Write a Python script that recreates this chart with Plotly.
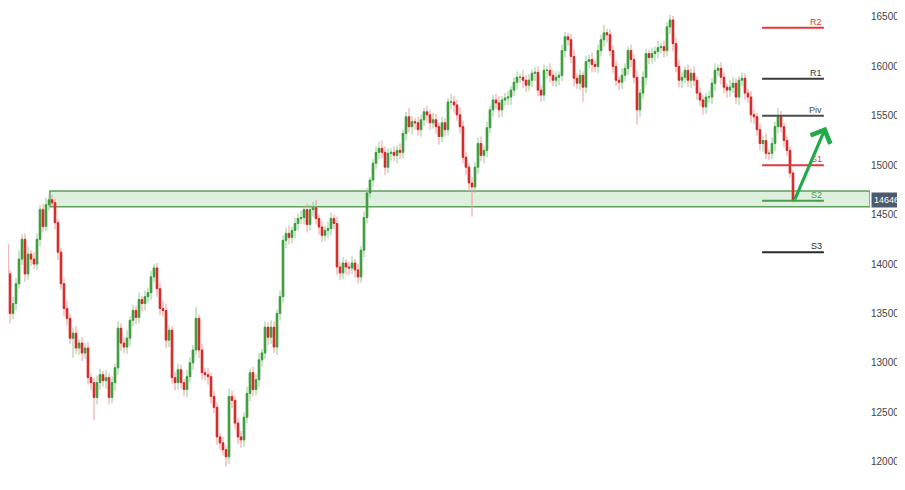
import plotly.graph_objects as go

# ---- data ----
first_open = 14000
closes = [
    14100, 14200, 13900, 13500, 13600, 13800, 14050, 14250, 13900, 14100,
    14050, 14000, 14250, 14550, 14380, 14600, 14650, 14620, 14420, 14120,
    13800, 13550, 13450, 13250, 13300, 13150, 13200, 13100, 13150, 12850,
    12800, 12650, 12800, 12880, 12820, 12850, 12650, 12800, 12950, 13350,
    13200, 13160, 13250, 13430, 13530, 13460, 13640, 13600, 13670, 13710,
    13870, 13960, 13750, 13550, 13530, 13230, 13330, 12850, 12800, 12930,
    12800, 12730, 12860, 13000, 13130, 13450, 13130, 12900, 12880, 12860,
    12660, 12550, 12250, 12190, 12120, 12050, 12660, 12620, 12390, 12250,
    12220, 12450, 12690, 12900, 12730, 12830, 13030, 13100, 13360, 13260,
    13360, 13160, 13500, 13670, 14240, 14310, 14270, 14340, 14410, 14460,
    14470, 14550, 14400, 14550, 14570, 14460, 14375, 14290, 14340, 14360,
    14460, 14410, 13970, 13910, 14010, 13970, 13960, 14010, 13940, 13870,
    14140, 14470, 14720, 14850, 15020, 15130, 15170, 15130, 14980, 15120,
    15130, 15100, 15150, 15130, 15320, 15490, 15390, 15440, 15430, 15360,
    15460, 15540, 15510, 15430, 15460, 15390, 15290, 15430, 15360, 15640,
    15640, 15610, 15510, 15390, 15080, 14980, 14820, 14780, 14980, 15220,
    15100, 15150, 15380, 15560, 15660, 15630, 15560, 15660, 15680, 15690,
    15760, 15840, 15890, 15890, 15860, 15810, 15860, 15930, 15940, 15760,
    15710, 15960, 15960, 15910, 15860, 15890, 15910, 16160, 16300, 16270,
    16100, 15880, 15830, 15910, 15790, 16050, 16070, 16020, 16000, 16160,
    16270, 16340, 16320, 16160, 16000, 15860, 15840, 15910, 15980, 16160,
    16070, 15890, 15560, 15730, 15890, 16130, 16090, 16130, 16150, 16190,
    16200, 16160, 16400, 16470, 16230, 16000, 15860, 15890, 15960, 15860,
    15930, 15860, 15730, 15660, 15590, 15690, 15690, 15830, 15960, 15980,
    15890, 15790, 15760, 15790, 15830, 15690, 15860, 15880, 15730, 15690,
    15510, 15490, 15360, 15220, 15250, 15120, 15120, 15220, 15390, 15490,
    15390, 15250, 15150, 14920, 14646,
]
wick_up = [
    60, 80, 50, 40, 70, 60, 90, 50, 60, 80, 40, 70, 60, 50, 60, 70, 50, 50, 40, 30,
    40, 60, 80, 50, 60, 70, 40, 60, 50, 60, 40, 50, 70, 60, 40, 80, 50, 60, 40, 70,
    50, 60, 80, 40, 60, 50, 70, 40, 60, 50, 60, 40, 50, 60, 80, 70, 50, 40, 60, 60,
    50, 40, 70, 60, 50, 120, 40, 60, 50, 70, 40, 60, 50, 40, 60, 30, 80, 60, 40, 50,
    60, 50, 70, 40, 60, 50, 70, 40, 60, 50, 70, 60, 40, 60, 50, 60, 80, 40, 60, 50,
    70, 40, 60, 50, 60, 80, 40, 60, 50, 70, 60, 40, 70, 50, 60, 40, 50, 70, 40, 60,
    40, 60, 50, 30, 40, 60, 70, 80, 60, 50, 40, 60, 50, 70, 40, 50, 90, 60, 40, 60,
    50, 40, 60, 50, 70, 60, 40, 60, 50, 40, 80, 60, 50, 70, 60, 50, 40, 60, 50, 60,
    70, 40, 60, 40, 50, 60, 70, 40, 50, 60, 40, 50, 60, 40, 70, 50, 60, 40, 50, 60,
    50, 60, 40, 70, 50, 60, 40, 60, 50, 40, 60, 70, 50, 60, 40, 60, 50, 70, 40, 60,
    50, 80, 40, 60, 50, 60, 40, 70, 50, 40, 60, 50, 70, 40, 60, 50, 40, 60, 50, 70,
    40, 60, 50, 50, 40, 60, 70, 50, 40, 60, 50, 70, 40, 60, 50, 40, 60, 50, 70, 40,
    60, 50, 40, 70, 60, 50, 40, 60, 50, 40, 60, 50, 40, 60, 50, 70, 40, 60, 50, 90,
    60, 40, 50, 40, 30,
]
wick_dn = [
    70, 60, 80, 100, 60, 70, 50, 60, 80, 60, 70, 50, 60, 70, 60, 50, 60, 40, 70, 80,
    60, 80, 70, 60, 200, 60, 70, 80, 60, 70, 80, 230, 70, 70, 60, 80, 70, 60, 80, 70,
    80, 60, 70, 80, 60, 70, 60, 80, 70, 60, 70, 60, 80, 70, 60, 80, 70, 60, 80, 70,
    60, 70, 80, 60, 70, 50, 80, 70, 60, 80, 70, 60, 80, 70, 60, 100, 70, 80, 60, 70,
    80, 70, 60, 80, 70, 60, 80, 70, 60, 80, 70, 60, 80, 70, 60, 80, 70, 60, 80, 70,
    60, 70, 80, 60, 70, 60, 80, 70, 60, 80, 70, 60, 80, 70, 60, 80, 70, 60, 80, 70,
    60, 70, 60, 50, 70, 60, 70, 60, 80, 60, 70, 60, 80, 70, 60, 70, 60, 80, 70, 60,
    70, 60, 80, 70, 60, 70, 80, 60, 70, 60, 70, 80, 60, 70, 60, 80, 90, 300, 60, 70,
    60, 80, 70, 60, 70, 60, 80, 70, 60, 70, 80, 60, 70, 60, 80, 70, 60, 70, 80, 60,
    70, 60, 80, 70, 60, 70, 80, 60, 70, 60, 70, 80, 60, 70, 150, 60, 70, 80, 60, 70,
    60, 70, 80, 60, 70, 60, 80, 70, 60, 70, 80, 60, 150, 70, 60, 80, 70, 60, 80, 70,
    60, 70, 60, 70, 80, 60, 70, 80, 60, 70, 80, 60, 70, 60, 80, 70, 60, 70, 80, 60,
    70, 60, 80, 70, 60, 70, 80, 60, 70, 60, 80, 70, 60, 70, 80, 60, 70, 60, 80, 70,
    60, 70, 60, 50, 20,
]

pivot_names = ["R2", "R1", "Piv", "S1", "S2", "S3"]
pivot_levels = [16390, 15875, 15500, 15000, 14640, 14120]
pivot_colors = ["#e03a3a", "#3a3a3a", "#4a4a4a", "#e03a3a", "#4c9a4c", "#2a2a2a"]

zone_low, zone_high = 14580, 14740
last_price = 14646
y_ticks = [12000, 12500, 13000, 13500, 14000, 14500, 15000, 15500, 16000, 16500]
y_tick_text = ["12000.", "12500.", "13000.", "13500.", "14000.",
               "14500.", "15000.", "15500.", "16000.", "16500."]

# ---- build OHLC ----
n = len(closes)
idx = list(range(n))
opens = [first_open] + closes[:-1]
highs = [max(o, c) + u for o, c, u in zip(opens, closes, wick_up)]
lows = [min(o, c) - d for o, c, d in zip(opens, closes, wick_dn)]
body_hi = [max(o, c) for o, c in zip(opens, closes)]
body_lo = [min(o, c) for o, c in zip(opens, closes)]

GREEN = "#3d9b3d"
RED = "#d42626"

fig = go.Figure()
# full range (wicks, lighter)
fig.add_trace(go.Candlestick(
    x=idx, open=opens, high=highs, low=lows, close=closes,
    increasing=dict(line=dict(color="#93cc93", width=1), fillcolor="#93cc93"),
    decreasing=dict(line=dict(color="#ef9a9a", width=1), fillcolor="#ef9a9a"),
    whiskerwidth=0, showlegend=False, hoverinfo="skip",
))
# bodies
fig.add_trace(go.Candlestick(
    x=idx, open=opens, high=body_hi, low=body_lo, close=closes,
    increasing=dict(line=dict(color=GREEN, width=1), fillcolor=GREEN),
    decreasing=dict(line=dict(color=RED, width=1), fillcolor=RED),
    whiskerwidth=0, showlegend=False,
))

x_start, x_end = 2.33, n + 24.67
# support zone
fig.add_shape(type="rect", xref="x", yref="y", x0=16.3, x1=x_end,
              y0=zone_low, y1=zone_high,
              fillcolor="rgba(120,190,120,0.25)",
              line=dict(color="#5e9f5e", width=1.5), layer="below")

# pivot levels
px0, px1 = n - 11.3, n + 9.3
for name, lvl, col in zip(pivot_names, pivot_levels, pivot_colors):
    fig.add_shape(type="line", xref="x", yref="y", x0=px0, x1=px1, y0=lvl, y1=lvl,
                  line=dict(color=col, width=2))
    fig.add_annotation(x=px1, y=lvl, xref="x", yref="y", text=name,
                       showarrow=False, xanchor="right", yanchor="bottom",
                       yshift=-1, font=dict(size=9, color=col,
                                            family="Liberation Sans, Arial"))

# green arrow
fig.add_annotation(x=n + 10, y=15390, ax=n - 0.6, ay=14640,
                   xref="x", yref="y", axref="x", ayref="y",
                   text="", showarrow=True, arrowhead=4, arrowsize=1.3,
                   arrowwidth=3.2, arrowcolor="#22aa48")

# last price label
fig.add_annotation(x=1, y=last_price, xref="paper", yref="y", text=str(last_price) + ".",
                   showarrow=False, xanchor="left", xshift=1,
                   bgcolor="#4c5a6e", borderpad=2,
                   font=dict(size=9, color="white", family="Liberation Sans, Arial"))

fig.update_layout(
    width=897, height=482,
    margin=dict(l=0, r=35, t=0, b=0),
    plot_bgcolor="white", paper_bgcolor="white",
    showlegend=False,
    xaxis=dict(visible=False, range=[x_start, x_end], rangeslider=dict(visible=False)),
    yaxis=dict(side="right", range=[11713, 16591], showgrid=False, zeroline=False,
               showline=False, ticks="", tickvals=y_ticks, ticktext=y_tick_text,
               tickfont=dict(size=10, color="#444", family="Liberation Sans, Arial")),
)

fig.write_html("out.html")
